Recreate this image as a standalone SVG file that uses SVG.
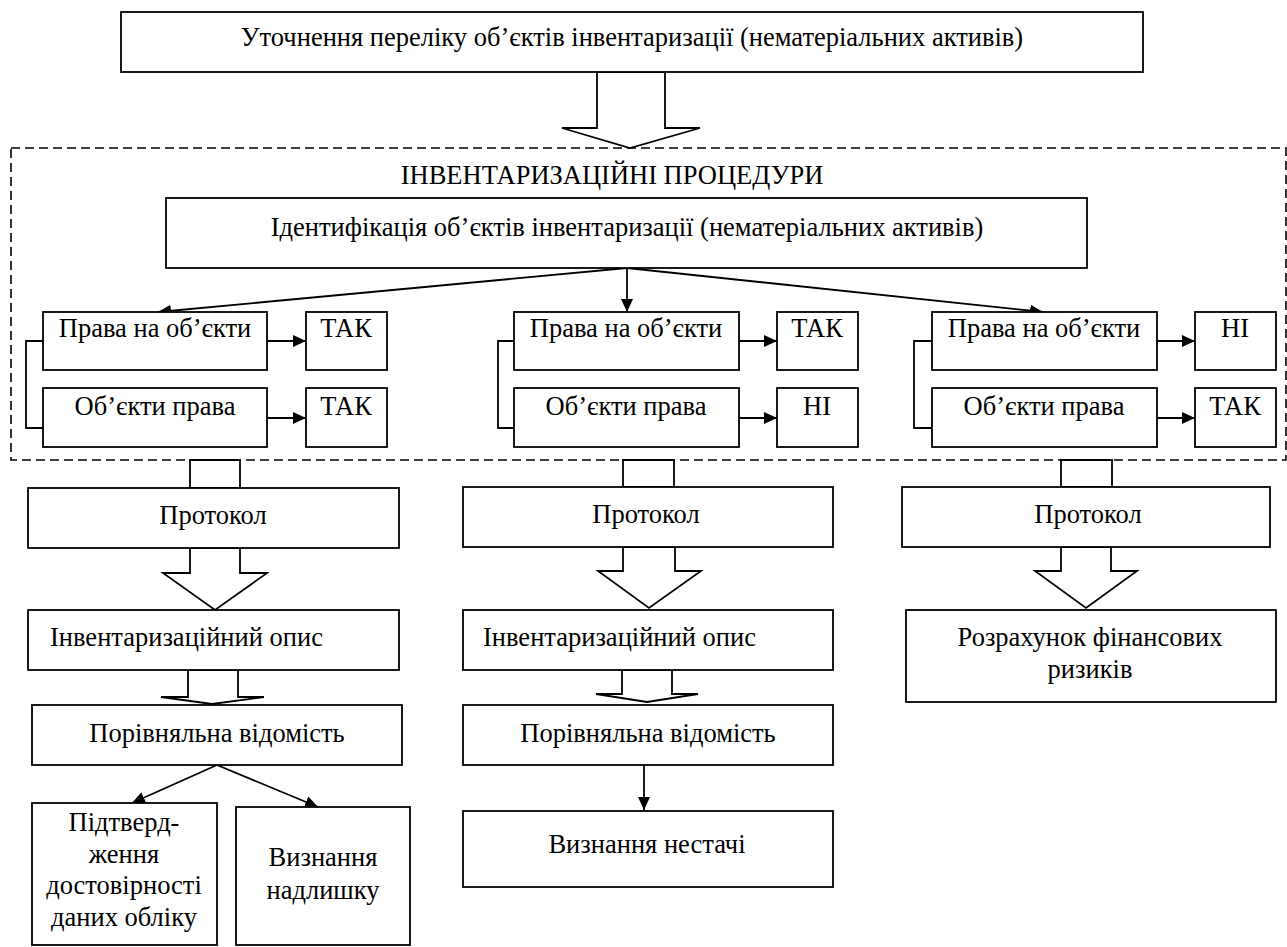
<svg xmlns="http://www.w3.org/2000/svg" width="1287" height="947" viewBox="0 0 1287 947" font-family="'Liberation Serif', 'Times New Roman', serif">
<style>
.b{fill:#fff;stroke:#000;stroke-width:1.8}
text{font-family:'Liberation Serif','Times New Roman',serif;font-size:26.5px;fill:#000}
.m{text-anchor:middle}
.c{fill:none;stroke:#000;stroke-width:1.8}
.ba{fill:#fff;stroke:#000;stroke-width:1.8;stroke-linejoin:miter}
</style>
<defs>
<marker id="ah" markerUnits="userSpaceOnUse" markerWidth="14" markerHeight="12" refX="13" refY="6" orient="auto">
<path d="M0,0 L13,6 L0,12 Z" fill="#000"/>
</marker>
</defs>
<rect width="1287" height="947" fill="#fff"/>

<g id="dashed-frame">
<rect x="11" y="148" width="1275" height="312" fill="none" stroke="#000" stroke-width="1.6" stroke-dasharray="9 5"/>
<text class="m" x="612" y="184">ІНВЕНТАРИЗАЦІЙНІ ПРОЦЕДУРИ</text>
</g>

<g id="connectors">
<polygon class="ba" points="597,72 597,128 562,128 630,148 700,128 665,128 665,72"/>
<line class="c" x1="627" y1="268" x2="158" y2="312" marker-end="url(#ah)"/>
<line class="c" x1="627" y1="268" x2="627" y2="312" marker-end="url(#ah)"/>
<line class="c" x1="627" y1="268" x2="1043" y2="312" marker-end="url(#ah)"/>
<polyline class="c" points="43,341 26,341 26,428 43,428"/>
<polyline class="c" points="514,341 498,341 498,428 514,428"/>
<polyline class="c" points="932,341 914,341 914,428 932,428"/>
<line class="c" x1="267" y1="341" x2="306" y2="341" marker-end="url(#ah)"/>
<line class="c" x1="267" y1="418" x2="306" y2="418" marker-end="url(#ah)"/>
<line class="c" x1="739" y1="341" x2="777" y2="341" marker-end="url(#ah)"/>
<line class="c" x1="739" y1="418" x2="777" y2="418" marker-end="url(#ah)"/>
<line class="c" x1="1157" y1="341" x2="1195" y2="341" marker-end="url(#ah)"/>
<line class="c" x1="1157" y1="418" x2="1195" y2="418" marker-end="url(#ah)"/>
<polygon class="ba" points="190,460 240,460 240,488 190,488"/>
<polygon class="ba" points="623,460 674,460 674,487 623,487"/>
<polygon class="ba" points="1061,460 1112,460 1112,487 1061,487"/>
<polygon class="ba" points="190,548 190,573 163,573 215,610 267,573 240,573 240,548"/>
<polygon class="ba" points="623,547 623,571 598,571 649,608 701,571 675,571 675,547"/>
<polygon class="ba" points="1061,547 1061,571 1035,571 1086,608 1137,571 1111,571 1111,547"/>
<polygon class="ba" points="188,670 188,697 161,697 212,704 264,697 238,697 238,670"/>
<polygon class="ba" points="622,670 622,694 596,694 647,702 698,694 672,694 672,670"/>
<line class="c" x1="217" y1="765" x2="132" y2="803" marker-end="url(#ah)"/>
<line class="c" x1="217" y1="765" x2="318" y2="807" marker-end="url(#ah)"/>
<line class="c" x1="644" y1="765" x2="644" y2="810" marker-end="url(#ah)"/>
</g>

<g id="n-top"><rect class="b" x="121" y="12" width="1022" height="60"/><text class="m" x="632" y="46">Уточнення переліку об’єктів інвентаризації (нематеріальних активів)</text></g>
<g id="n-ident"><rect class="b" x="166" y="198" width="921" height="70"/><text class="m" x="627" y="236">Ідентифікація об’єктів інвентаризації (нематеріальних активів)</text></g>

<g id="n-r1"><rect class="b" x="43" y="312" width="224" height="58"/><text class="m" x="155" y="337">Права на об’єкти</text></g>
<g id="n-r1y"><rect class="b" x="306" y="312" width="81" height="58"/><text class="m" x="346" y="337">ТАК</text></g>
<g id="n-o1"><rect class="b" x="43" y="388" width="224" height="59"/><text class="m" x="155" y="415">Об’єкти права</text></g>
<g id="n-o1y"><rect class="b" x="306" y="388" width="81" height="59"/><text class="m" x="346" y="415">ТАК</text></g>

<g id="n-r2"><rect class="b" x="514" y="312" width="225" height="58"/><text class="m" x="626" y="337">Права на об’єкти</text></g>
<g id="n-r2y"><rect class="b" x="777" y="312" width="81" height="58"/><text class="m" x="817" y="337">ТАК</text></g>
<g id="n-o2"><rect class="b" x="514" y="388" width="225" height="59"/><text class="m" x="626" y="415">Об’єкти права</text></g>
<g id="n-o2n"><rect class="b" x="777" y="388" width="81" height="59"/><text class="m" x="817" y="415">НІ</text></g>

<g id="n-r3"><rect class="b" x="932" y="312" width="225" height="58"/><text class="m" x="1044" y="337">Права на об’єкти</text></g>
<g id="n-r3n"><rect class="b" x="1195" y="312" width="81" height="58"/><text class="m" x="1235" y="337">НІ</text></g>
<g id="n-o3"><rect class="b" x="932" y="388" width="225" height="59"/><text class="m" x="1044" y="415">Об’єкти права</text></g>
<g id="n-o3y"><rect class="b" x="1195" y="388" width="81" height="59"/><text class="m" x="1235" y="415">ТАК</text></g>

<g id="n-p1"><rect class="b" x="28" y="488" width="371" height="60"/><text class="m" x="213" y="524">Протокол</text></g>
<g id="n-p2"><rect class="b" x="463" y="487" width="370" height="60"/><text class="m" x="646" y="523">Протокол</text></g>
<g id="n-p3"><rect class="b" x="902" y="487" width="368" height="60"/><text class="m" x="1088" y="523">Протокол</text></g>

<g id="n-i1"><rect class="b" x="28" y="610" width="371" height="60"/><text x="50" y="646">Інвентаризаційний опис</text></g>
<g id="n-i2"><rect class="b" x="463" y="610" width="370" height="60"/><text x="483" y="646">Інвентаризаційний опис</text></g>
<g id="n-risk"><rect class="b" x="906" y="610" width="370" height="92"/><text class="m" x="1090" y="646">Розрахунок фінансових</text><text class="m" x="1090" y="678">ризиків</text></g>

<g id="n-c1"><rect class="b" x="32" y="705" width="370" height="60"/><text class="m" x="217" y="742">Порівняльна відомість</text></g>
<g id="n-c2"><rect class="b" x="463" y="705" width="370" height="60"/><text class="m" x="648" y="742">Порівняльна відомість</text></g>

<g id="n-confirm"><rect class="b" x="32" y="803" width="185" height="142"/><text class="m" x="124" y="831">Підтверд-</text><text class="m" x="124" y="863">ження</text><text class="m" x="124" y="894">достовірності</text><text class="m" x="124" y="926">даних обліку</text></g>
<g id="n-surplus"><rect class="b" x="236" y="807" width="174" height="138"/><text class="m" x="323" y="866">Визнання</text><text class="m" x="323" y="899">надлишку</text></g>
<g id="n-short"><rect class="b" x="463" y="811" width="370" height="76"/><text class="m" x="647" y="853">Визнання нестачі</text></g>
</svg>
